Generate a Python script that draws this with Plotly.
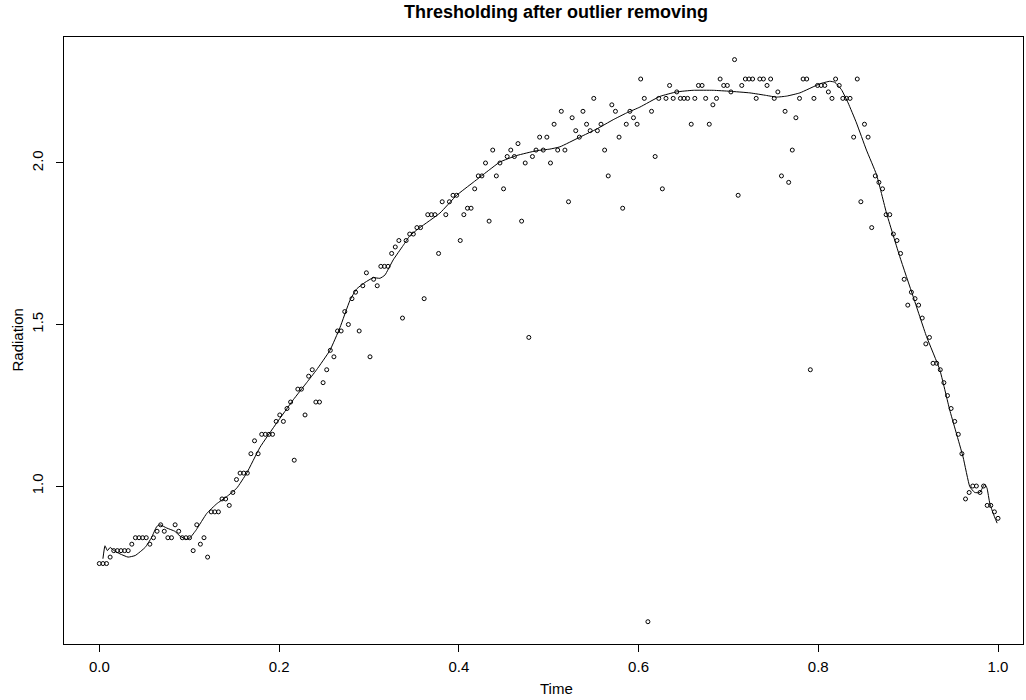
import numpy as np
import plotly.graph_objects as go

radiation = [
    0.76, 0.76, 0.76, 0.78, 0.80, 0.80, 0.80, 0.80, 0.80, 0.82,
    0.84, 0.84, 0.84, 0.84, 0.82, 0.84, 0.86, 0.88, 0.86, 0.84,
    0.84, 0.88, 0.86, 0.84, 0.84, 0.84, 0.80, 0.88, 0.82, 0.84,
    0.78, 0.92, 0.92, 0.92, 0.96, 0.96, 0.94, 0.98, 1.02, 1.04,
    1.04, 1.04, 1.10, 1.14, 1.10, 1.16, 1.16, 1.16, 1.16, 1.20,
    1.22, 1.20, 1.24, 1.26, 1.08, 1.30, 1.30, 1.22, 1.34, 1.36,
    1.26, 1.26, 1.32, 1.36, 1.42, 1.40, 1.48, 1.48, 1.54, 1.50,
    1.58, 1.60, 1.48, 1.62, 1.66, 1.40, 1.64, 1.62, 1.68, 1.68,
    1.68, 1.72, 1.74, 1.76, 1.52, 1.76, 1.78, 1.78, 1.80, 1.80,
    1.58, 1.84, 1.84, 1.84, 1.72, 1.88, 1.84, 1.88, 1.90, 1.90,
    1.76, 1.84, 1.86, 1.86, 1.92, 1.96, 1.96, 2.00, 1.82, 2.04,
    1.96, 2.00, 1.92, 2.02, 2.04, 2.02, 2.06, 1.82, 2.00, 1.46,
    2.02, 2.04, 2.08, 2.04, 2.08, 2.00, 2.12, 2.04, 2.16, 2.04,
    1.88, 2.14, 2.10, 2.08, 2.16, 2.12, 2.10, 2.20, 2.10, 2.12,
    2.04, 1.96, 2.18, 2.16, 2.08, 1.86, 2.12, 2.16, 2.14, 2.12,
    2.26, 2.20, 0.58, 2.16, 2.02, 2.20, 1.92, 2.20, 2.24, 2.20,
    2.22, 2.20, 2.20, 2.20, 2.12, 2.20, 2.24, 2.24, 2.20, 2.12,
    2.18, 2.20, 2.26, 2.24, 2.24, 2.22, 2.32, 1.90, 2.24, 2.26,
    2.26, 2.26, 2.20, 2.26, 2.26, 2.24, 2.26, 2.20, 2.22, 1.96,
    2.16, 1.94, 2.04, 2.14, 2.20, 2.26, 2.26, 1.36, 2.20, 2.24,
    2.24, 2.24, 2.22, 2.20, 2.26, 2.24, 2.20, 2.20, 2.20, 2.08,
    2.26, 1.88, 2.12, 2.08, 1.80, 1.96, 1.94, 1.92, 1.84, 1.84,
    1.78, 1.76, 1.72, 1.64, 1.56, 1.60, 1.58, 1.56, 1.52, 1.44,
    1.46, 1.38, 1.38, 1.36, 1.32, 1.28, 1.24, 1.20, 1.16, 1.10,
    0.96, 0.98, 1.00, 1.00, 0.98, 1.00, 0.94, 0.94, 0.92, 0.90,
]
time = np.linspace(0.0, 1.0, len(radiation))

# Thresholded reconstruction
fit_time = [
    0.004, 0.0063, 0.009, 0.012, 0.0164, 0.023, 0.032, 0.040, 0.051, 0.058,
    0.064, 0.0675, 0.075, 0.084, 0.0898, 0.097, 0.101, 0.108, 0.1195, 0.1306,
    0.1417, 0.1528, 0.164, 0.1788, 0.1973, 0.2158, 0.2307, 0.2418, 0.2566, 0.2677,
    0.2789, 0.2863, 0.2955, 0.3048, 0.3122, 0.3178, 0.327, 0.3382, 0.3456, 0.3567,
    0.379, 0.3976, 0.416, 0.4346, 0.4457, 0.4643, 0.4865, 0.5013, 0.5125, 0.5347,
    0.5533, 0.5718, 0.5867, 0.6015, 0.6237, 0.6423, 0.6608, 0.6831, 0.7016, 0.7239,
    0.7424, 0.7535, 0.7647, 0.7795, 0.8017, 0.8128, 0.8184, 0.8258, 0.8332, 0.8425,
    0.8536, 0.8648, 0.8759, 0.8907, 0.9055, 0.9204, 0.9352, 0.9463, 0.9611, 0.9686,
    0.9741, 0.9797, 0.9852, 0.9878, 0.9908, 0.9945, 0.999,
]
fit_radiation = [
    0.775, 0.815, 0.800, 0.810, 0.800, 0.790, 0.780, 0.785, 0.810, 0.840,
    0.875, 0.880, 0.870, 0.860, 0.845, 0.835, 0.840, 0.865, 0.915, 0.945,
    0.967, 0.993, 1.040, 1.120, 1.195, 1.267, 1.320, 1.360, 1.420, 1.490,
    1.575, 1.610, 1.630, 1.645, 1.643, 1.653, 1.700, 1.745, 1.775, 1.800,
    1.845, 1.900, 1.940, 1.980, 2.003, 2.023, 2.038, 2.043, 2.050, 2.080,
    2.105, 2.134, 2.155, 2.173, 2.206, 2.220, 2.225, 2.225, 2.222, 2.217,
    2.209, 2.204, 2.207, 2.217, 2.245, 2.253, 2.250, 2.227, 2.186, 2.124,
    2.040, 1.964, 1.845, 1.710, 1.587, 1.463, 1.360, 1.235, 1.090, 0.998,
    0.980, 0.980, 1.006, 0.993, 0.947, 0.916, 0.885,
]

x_ticks = [0.0, 0.2, 0.4, 0.6, 0.8, 1.0]
x_tick_labels = ["0.0", "0.2", "0.4", "0.6", "0.8", "1.0"]
y_ticks = [1.0, 1.5, 2.0]
y_tick_labels = ["1.0", "1.5", "2.0"]

FONT = "Liberation Sans, Arial, Helvetica, sans-serif"
LABEL_SIZE = 15
TITLE_SIZE = 18

fig = go.Figure()
fig.add_trace(go.Scatter(
    x=time, y=radiation, mode="markers",
    marker=dict(symbol="circle-open", size=4, color="black", line=dict(width=1, color="black")),
    showlegend=False, hoverinfo="skip",
))
fig.add_trace(go.Scatter(
    x=fit_time, y=fit_radiation, mode="lines",
    line=dict(color="black", width=1, shape="spline", smoothing=0.4),
    showlegend=False, hoverinfo="skip",
))

fig.update_layout(
    width=1026, height=700,
    margin=dict(l=64, r=3, t=37, b=56),
    paper_bgcolor="white", plot_bgcolor="white",
    font=dict(family=FONT, color="black", size=LABEL_SIZE),
    xaxis=dict(
        range=[-0.0393, 1.0278], showgrid=False, zeroline=False,
        showline=True, mirror=True, linecolor="black", linewidth=1,
        ticks="outside", ticklen=7, tickwidth=1, tickcolor="black",
        tickvals=x_ticks, ticktext=x_tick_labels, ticklabelstandoff=2,
        tickfont=dict(family=FONT, size=LABEL_SIZE, color="black"),
    ),
    yaxis=dict(
        range=[0.511, 2.39], showgrid=False, zeroline=False,
        showline=True, mirror=True, linecolor="black", linewidth=1,
        ticks="outside", ticklen=7, tickwidth=1, tickcolor="black",
        tickvals=y_ticks, ticktext=y_tick_labels, tickangle=-90,
        ticklabelstandoff=7,
        tickfont=dict(family=FONT, size=LABEL_SIZE, color="black"),
    ),
    annotations=[
        dict(text="<b>Thresholding after outlier removing</b>", xref="paper", yref="paper",
             x=0.5135, y=1.041, xanchor="center", yanchor="middle", showarrow=False,
             font=dict(family=FONT, size=TITLE_SIZE, color="black")),
        dict(text="Time", xref="paper", yref="paper", x=0.5135, y=-0.0725,
             xanchor="center", yanchor="middle", showarrow=False,
             font=dict(family=FONT, size=LABEL_SIZE, color="black")),
        dict(text="Radiation", xref="paper", yref="paper", x=-0.049, y=0.5,
             xanchor="center", yanchor="middle", showarrow=False, textangle=-90,
             font=dict(family=FONT, size=LABEL_SIZE, color="black")),
    ],
)

fig.write_html("out.html")
